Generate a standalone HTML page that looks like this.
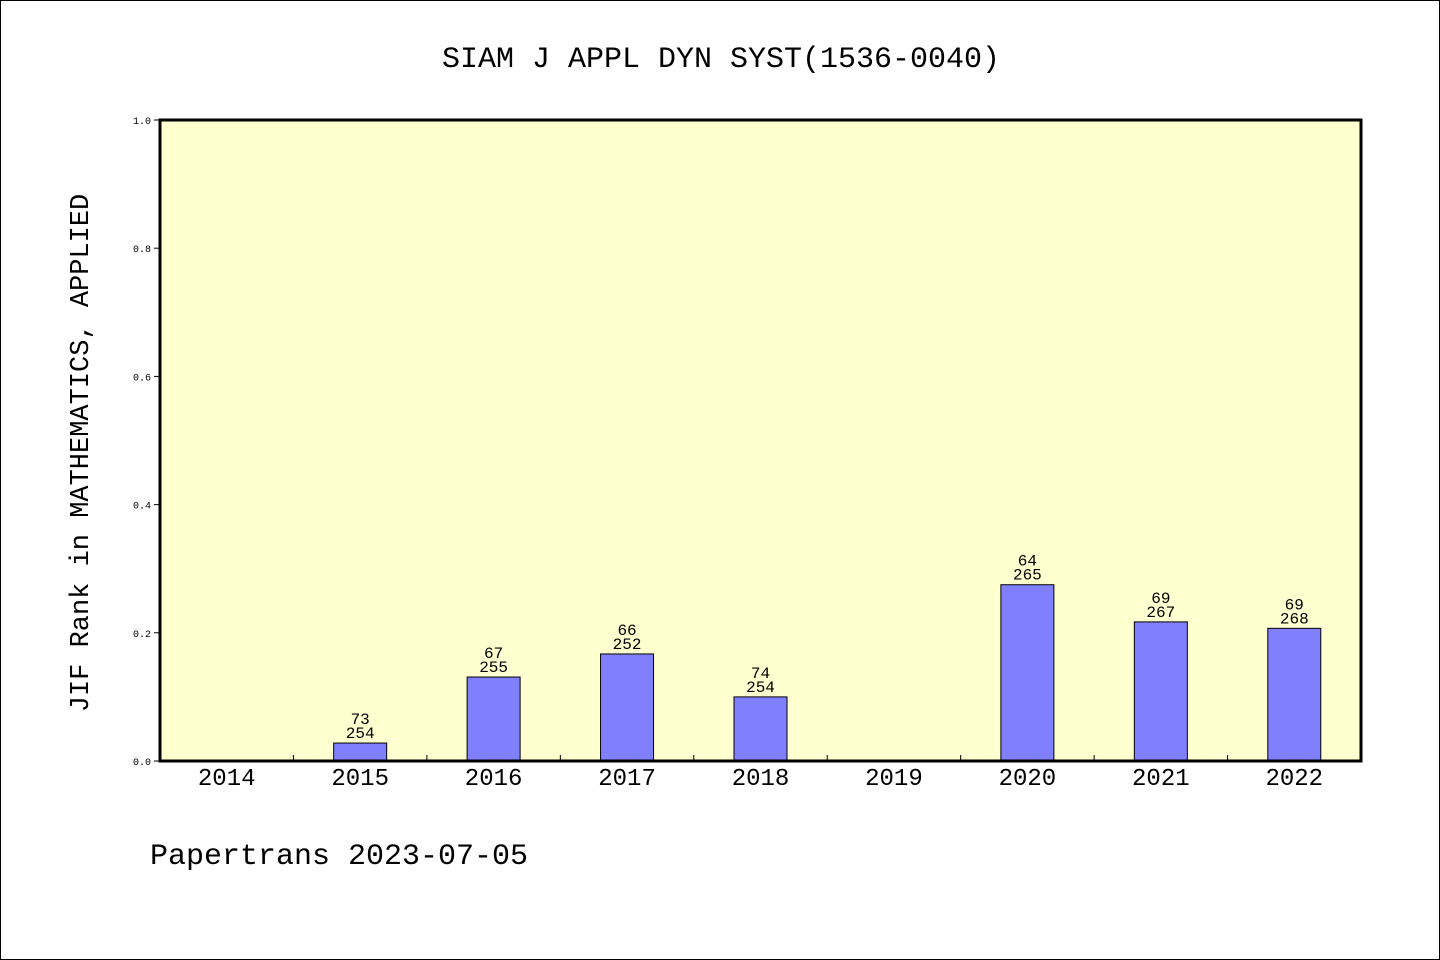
<!DOCTYPE html>
<html><head><meta charset="utf-8"><style>
body{margin:0;background:#fff}
svg{display:block;font-family:"Liberation Mono","DejaVu Sans Mono",monospace}
</style></head><body>
<svg width="1440" height="960" viewBox="0 0 1440 960">
<rect x="0.5" y="0.5" width="1439" height="959" fill="#fff" stroke="#000"/>
<text x="721" y="67" font-size="30" text-anchor="middle">SIAM J APPL DYN SYST(1536-0040)</text>
<rect x="160" y="120" width="1201" height="641" fill="#ffffd0"/>
<g id="bars"></g>
<rect x="160" y="120" width="1201" height="641" fill="none" stroke="#000" stroke-width="3"/>
<text transform="translate(88,453) rotate(-90)" font-size="27" text-anchor="middle">JIF Rank in MATHEMATICS, APPLIED</text>
<text x="150" y="864" font-size="30">Papertrans 2023-07-05</text>
</svg>
<script>
const categories=["2014","2015","2016","2017","2018","2019","2020","2021","2022"];
const values=[null,0.028,0.131,0.167,0.100,null,0.275,0.217,0.207];
const ranks=[null,"73","67","66","74",null,"64","69","69"];
const totals=[null,"254","255","252","254",null,"265","267","268"];
const yTicks=["0.0","0.2","0.4","0.6","0.8","1.0"];
const NS="http://www.w3.org/2000/svg";
const g=document.getElementById('bars');
const X0=160,X1=1361,Y0=761,Y1=120;
const bw=(X1-X0)/categories.length;
const y=v=>Y0-(Y0-Y1)*v;
const xc=i=>X0+bw*(i+0.5);
function mk(t,a){const e=document.createElementNS(NS,t);for(const k in a)e.setAttribute(k,a[k]);g.appendChild(e);return e;}
yTicks.forEach(t=>{const v=parseFloat(t);
const l=mk('line',{x1:154,x2:160,y1:y(v),y2:y(v),stroke:'#000'});


const tx=mk('text',{x:151,y:y(v)+4,'font-size':10,'text-anchor':'end'});tx.textContent=t;


});
categories.forEach((c,i)=>{
if(i>0){const l=mk('line',{x1:X0+bw*i,x2:X0+bw*i,y1:Y0,y2:Y0-6,stroke:'#000'});

}
const tx=mk('text',{x:xc(i),y:785,'font-size':24,'text-anchor':'middle'});tx.textContent=c;


const v=values[i];if(v==null)return;
const r=mk('rect',{x:xc(i)-26.5,y:y(v),width:53,height:Y0-y(v),fill:'#8080ff',stroke:'#000','stroke-width':1});


const a=mk('text',{x:xc(i),y:y(v)-19,'font-size':16,'text-anchor':'middle'});a.textContent=ranks[i];


const b=mk('text',{x:xc(i),y:y(v)-5,'font-size':16,'text-anchor':'middle'});b.textContent=totals[i];


});
</script>
</body></html>
